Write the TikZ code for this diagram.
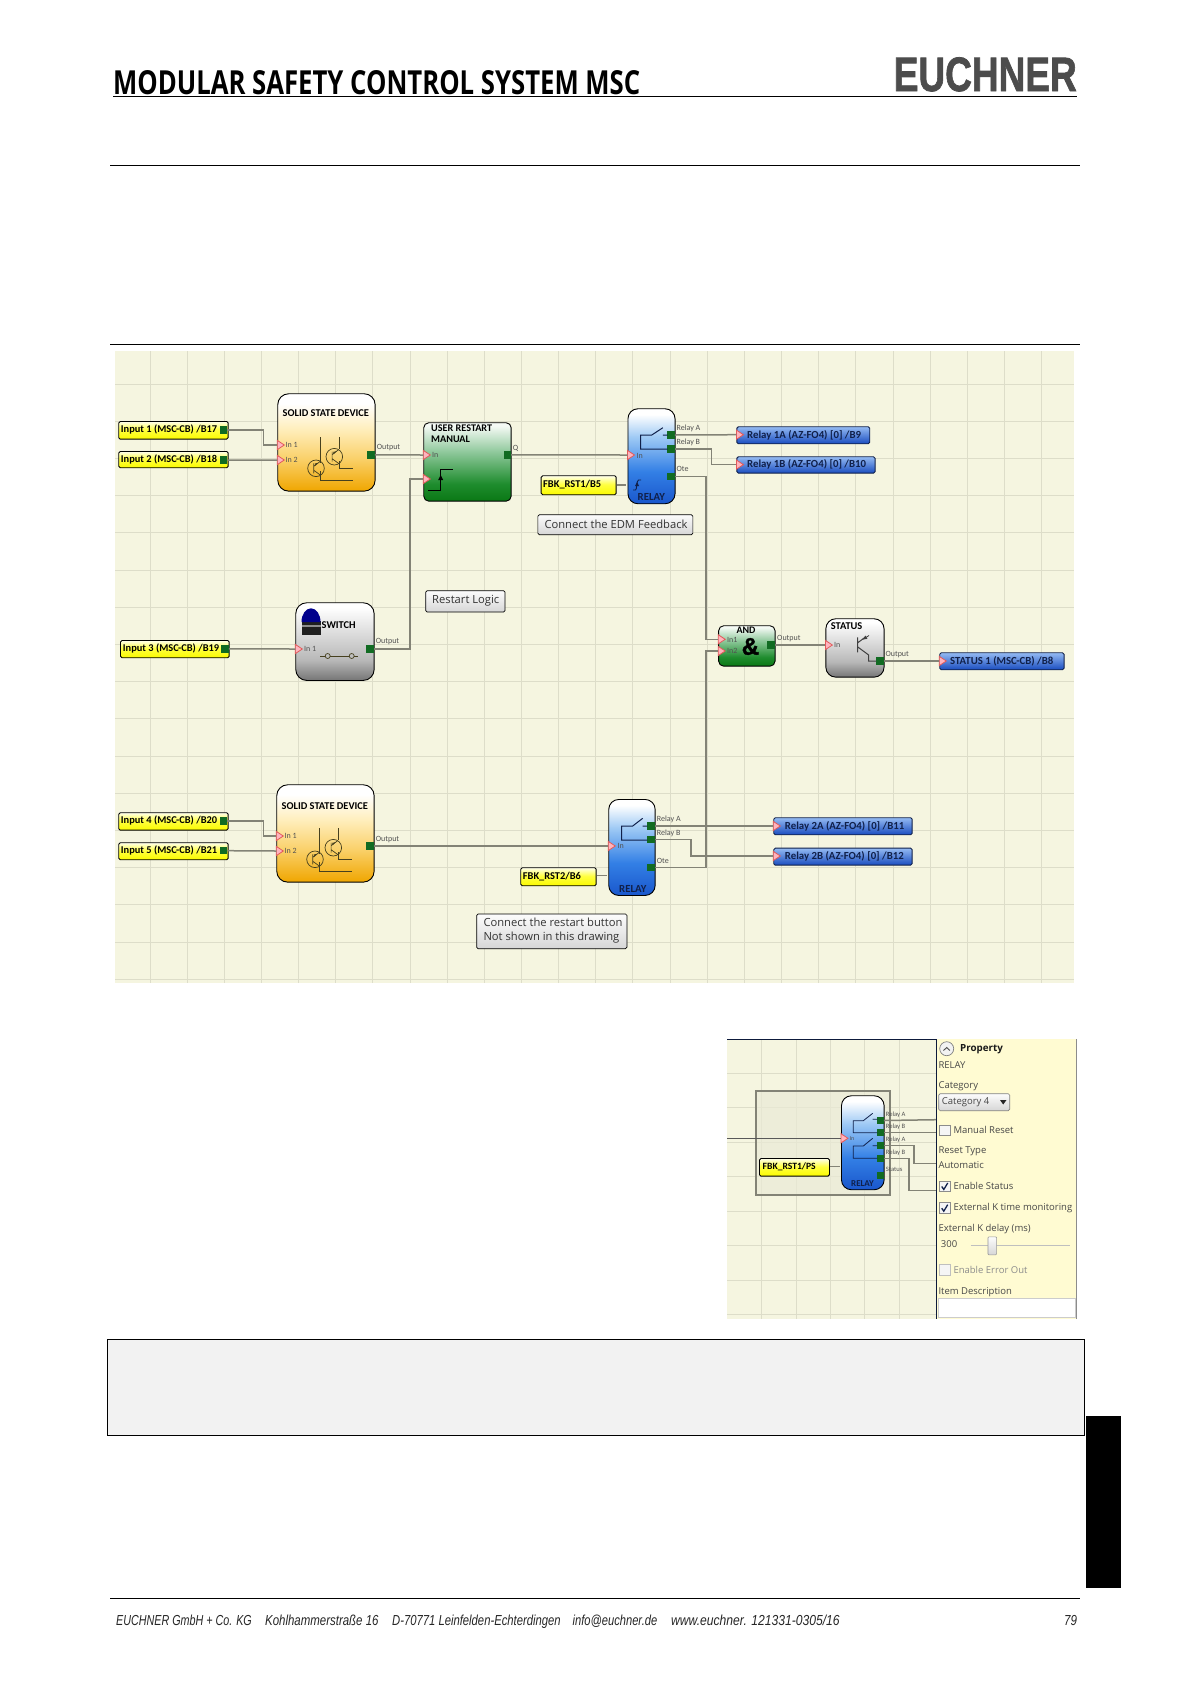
\documentclass[tikz,border=0pt]{standalone}
\usepackage{fontspec}
\usepackage{graphicx}
\setmainfont{Carlito}
\newfontfamily\uif{Open Sans}
\newfontfamily\headf{Open Sans}
\newfontfamily\logof[BoldFeatures={FakeBold=1.6}]{Liberation Sans}
\newfontfamily\footf{Liberation Sans}
\newcounter{lbl}
\definecolor{canvas}{HTML}{F5F5E0}
\definecolor{gridc}{HTML}{DDDDC9}
\definecolor{wirec}{HTML}{838376}
\definecolor{portc}{HTML}{116B22}
\definecolor{navy}{HTML}{10204A}
\definecolor{symb}{HTML}{46401E}
\definecolor{panelc}{HTML}{FFFBD2}
\definecolor{mkline}{HTML}{E25A5A}
\definecolor{mkfill}{HTML}{FFB4BE}
\pgfdeclareverticalshading{shOrange}{100bp}{rgb(0bp)=(0.94,0.65,0); rgb(25bp)=(0.94,0.65,0); rgb(42bp)=(0.98,0.82,0.42); rgb(58bp)=(1,0.94,0.76); rgb(70bp)=(1,1,1); rgb(100bp)=(1,1,1)}
\pgfdeclareverticalshading{shGray}{100bp}{rgb(0bp)=(0.46,0.46,0.46); rgb(25bp)=(0.46,0.46,0.46); rgb(38bp)=(0.72,0.72,0.72); rgb(72bp)=(1,1,1); rgb(100bp)=(1,1,1)}
\pgfdeclareverticalshading{shGreen}{100bp}{rgb(0bp)=(0.04,0.47,0.08); rgb(25bp)=(0.04,0.47,0.08); rgb(36bp)=(0.12,0.55,0.18); rgb(56bp)=(0.55,0.78,0.6); rgb(73bp)=(0.96,0.98,0.96); rgb(100bp)=(1,1,1)}
\pgfdeclareverticalshading{shBlue}{100bp}{rgb(0bp)=(0.1,0.34,0.8); rgb(25bp)=(0.1,0.34,0.8); rgb(42bp)=(0.2,0.5,0.9); rgb(60bp)=(0.62,0.79,0.96); rgb(72bp)=(1,1,1); rgb(100bp)=(1,1,1)}
\pgfdeclareverticalshading{shYellow}{100bp}{rgb(0bp)=(0.98,0.98,0); rgb(25bp)=(0.98,0.98,0); rgb(52bp)=(1,1,0.25); rgb(75bp)=(1,1,0.93); rgb(100bp)=(1,1,1)}
\pgfdeclareverticalshading{shOut}{100bp}{rgb(0bp)=(0.1,0.3,0.75); rgb(25bp)=(0.1,0.3,0.75); rgb(75bp)=(0.58,0.73,0.95); rgb(100bp)=(1,1,1)}
\pgfdeclareverticalshading{shNote}{100bp}{rgb(0bp)=(0.84,0.84,0.84); rgb(25bp)=(0.84,0.84,0.84); rgb(75bp)=(0.99,0.99,0.99); rgb(100bp)=(1,1,1)}
\tikzset{
  blk/.style={draw=black,line width=0.9pt,inner sep=0pt,anchor=north west},
  inlab/.style={blk,shading=shYellow,rounded corners=1.5pt,draw=black},
  outlab/.style={blk,shading=shOut,rounded corners=1.5pt,draw=navy},
  notebox/.style={blk,shading=shNote,rounded corners=1.5pt,line width=0.7pt},
  port/.style={draw=none,fill=portc,inner sep=0pt,minimum width=7.3pt,minimum height=7.5pt},
  wire/.style={draw=wirec,line width=1.5pt},
  mk/.style={draw=mkline,fill=mkfill,line width=0.8pt},
  sym/.style={draw=symb,line width=0.7pt},
  relsym/.style={draw=navy,line width=1pt},
  boldt/.style={inner sep=0pt,anchor=west,font=\fontsize{10.4}{11}\selectfont\bfseries,text=black},
  outt/.style={inner sep=0pt,anchor=west,font=\fontsize{10.8}{11}\selectfont\bfseries,text=navy},
  notet/.style={inner sep=0pt,anchor=west,font=\uif\fontsize{11.2}{13.4}\selectfont,text=black!80,align=left},
  small/.style={inner sep=0pt,anchor=west,font=\fontsize{8}{9}\selectfont,text=black!68},
  panelt/.style={inner sep=0pt,anchor=west,font=\uif\fontsize{9.5}{10}\selectfont,text=black!72},
  check/.style={draw=black!45,fill=black!4,line width=0.6pt},
  foot/.style={inner sep=0pt,anchor=base west,font=\footf\itshape\fontsize{14.5}{16}\selectfont,text=black!85}
}
\newcommand{\lb}[4][small]{\stepcounter{lbl}\node[#1] (lab\arabic{lbl}) at (#2,#3) {#4};}
\newcommand{\mkr}[3]{\coordinate (#1) at (#2,#3);\draw[mk] (#1) ++(0,-4.6) -- ++(7,4.6) -- ++(-7,4.6) -- cycle;}
\newcommand{\ssdsym}[2]{\begin{scope}[shift={(#1,#2)}]
  \draw[sym] (43.4,44) -- (43.4,70) (43.4,78) -- (43.4,86.7) -- (75.4,86.7);
  \draw[sym] (62,44) -- (62,56) (62,68) -- (62,75) -- (75.4,75);
  \draw[sym] (38.7,75) circle (8.3) (57,63.4) circle (8.3);
  \draw[sym] (36.5,70) -- (36.5,80) (36.5,77) -- (43.4,82) (36.5,73) -- (43,68);
  \draw[sym] (54.8,58.4) -- (54.8,68.4) (54.8,65.4) -- (61.7,70.4) (54.8,61.4) -- (61.3,56.4);
  \fill[symb] (41,69.5) -- (38,72.5) -- (37.6,70.2) -- cycle (59.3,57.9) -- (56.3,60.9) -- (55.9,58.6) -- cycle;
\end{scope}}
\begin{document}
\begin{tikzpicture}[x=1pt,y=-1pt]
\useasboundingbox (0,0) rectangle (1191,1684);
\fill[white] (0,0) rectangle (1191,1684);

% ---- header ----
\node[inner sep=0pt,anchor=south west] (title) at (113,95) {\resizebox{527pt}{24pt}{\headf\bfseries MODULAR SAFETY CONTROL SYSTEM MSC}};
\node[inner sep=0pt,anchor=south east] (logo) at (1077,91.7) {\resizebox{183pt}{33.7pt}{\logof\bfseries\color{black!70}EUCHNER}};
\draw[black,line width=1pt] (113,96.7) -- (1077,96.7);
\draw[black,line width=1pt] (110,165.7) -- (1080,165.7);
\draw[black,line width=1pt] (110,344.5) -- (1080,344.5);

% ---- main canvas ----
\fill[canvas] (115,351) rectangle (1074,982.7);
\foreach \k in {0,...,24} \draw[gridc,line width=1pt] ({150+37.15*\k},351) -- ({150+37.15*\k},982.7);
\foreach \k in {0,...,16} \draw[gridc,line width=1pt] (115,{384+37.2*\k}) -- (1074,{384+37.2*\k});

% input labels
\node[inlab,minimum width=109.4pt,minimum height=17.7pt] (i1) at (118.3,421) {};
\node[inlab,minimum width=109.4pt,minimum height=16.3pt] (i2) at (118.3,451) {};
\node[inlab,minimum width=108.7pt,minimum height=17.3pt] (i3) at (120,640) {};
\node[inlab,minimum width=109.4pt,minimum height=17.4pt] (i4) at (118.3,812.3) {};
\node[inlab,minimum width=109.4pt,minimum height=17pt] (i5) at (118.3,842.3) {};
\lb[boldt]{120.7}{429.3}{Input 1 (MSC-CB) /B17}
\lb[boldt]{120.7}{459.3}{Input 2 (MSC-CB) /B18}
\lb[boldt]{122.7}{648.3}{Input 3 (MSC-CB) /B19}
\lb[boldt]{120.7}{820.3}{Input 4 (MSC-CB) /B20}
\lb[boldt]{120.7}{850.3}{Input 5 (MSC-CB) /B21}
\node[port] (p1) at (223.6,429.8) {};
\node[port] (p2) at (223.6,460.2) {};
\node[port] (p3) at (225,648.9) {};
\node[port] (p4) at (223.6,820.8) {};
\node[port] (p5) at (223.6,850.7) {};

% solid state device 1
\node[blk,shading=shOrange,rounded corners=11pt,minimum width=97.4pt,minimum height=97.4pt] (ssd1) at (277.3,393.3) {};
\lb[boldt]{282.5}{413.3}{SOLID STATE DEVICE}
\ssdsym{277.3}{393.3}
\mkr{m1}{277.3}{445}
\mkr{m2}{277.3}{460}
\lb{285.5}{445}{In 1}
\lb{285.5}{460}{In 2}
\node[port] (ssd1o) at (371,454.9) {};
\lb{376.7}{448}{Output}

% user restart
\node[blk,shading=shGreen,rounded corners=5pt,minimum width=87.4pt,minimum height=78.4pt] (ur) at (423.3,422.3) {};
\stepcounter{lbl}\node[inner sep=0pt,anchor=north west,align=left,font=\fontsize{10.2}{11}\selectfont\bfseries] (lab\arabic{lbl}) at (431,424.3) {USER RESTART\\MANUAL};
\mkr{m3}{423.3}{455}
\mkr{m4}{423.3}{479}
\lb{432}{455.3}{In}
\node[port] (urq) at (507.3,454.9) {};
\lb{512.7}{448}{Q}
\draw[draw=black,line width=0.9pt] (428.3,490.7) -- (440.7,490.7) -- (440.7,469.3) -- (452.7,469.3);
\fill[black] (440.7,475) -- (443.2,480) -- (438.2,480) -- cycle;

% switch
\node[blk,shading=shGray,rounded corners=11pt,minimum width=78.4pt,minimum height=77.7pt] (sw) at (295.3,602.3) {};
\fill[black!88] (302,621) rectangle (320.5,635);
\fill[black!45] (302,624.5) rectangle (320.5,627);
\fill[blue!55!black] (301.5,622) arc[start angle=180,end angle=0,x radius=9.5,y radius=-13.7] -- cycle;
\lb[boldt]{321.5}{624.8}{SWITCH}
\mkr{m5}{295.3}{649}
\lb{304}{649}{In 1}
\draw[sym] (320,656) -- (325.2,656) (330.2,656) -- (349.2,656) (354.2,656) -- (358,656);
\draw[sym] (327.7,656) circle (2.5) (351.7,656) circle (2.5);
\node[port] (swo) at (370,648.9) {};
\lb{375.7}{642}{Output}

% restart logic note
\node[notebox,minimum width=79.4pt,minimum height=21.4pt] (nr) at (425.3,590.3) {};
\lb[notet]{432}{601}{Restart Logic}

% relay 1
\node[blk,shading=shBlue,rounded corners=10pt,minimum width=47.1pt,minimum height=95pt] (r1) at (627.5,408.3) {};
\mkr{m6}{627.5}{455}
\lb{636.4}{456}{In}
\node[port] (r1a) at (671,435) {};
\node[port] (r1b) at (671,449) {};
\node[port] (r1c) at (671,476.3) {};
\lb{676.4}{428.3}{Relay A}
\lb{676.4}{442.3}{Relay B}
\lb{676.4}{469.3}{Ote}
\draw[relsym] (662.9,427.7) -- (651.8,435) -- (640.7,435) -- (640.7,449) -- (667.5,449) (662.9,435) -- (667.5,435);
\draw[relsym,line width=0.9pt] (633,490) -- (635.5,490) .. controls (637,490) and (636.5,480) .. (638.5,480) -- (641,480);
\fill[navy] (637,482) -- (639,486) -- (635,486) -- cycle;
\lb[outt]{637.5}{497.3}{RELAY}

% FBK1
\node[inlab,minimum width=75pt,minimum height=19pt] (fb1) at (540.7,475.3) {};
\lb[boldt]{543}{485}{FBK\_RST1/B5}
\coordinate (r1fb) at (626.4,485);
\draw[wire] (fb1.east |- r1fb) -- (r1fb);

% EDM note
\node[notebox,minimum width=155pt,minimum height=20pt] (ne) at (537.5,514.3) {};
\lb[notet]{544.3}{524.5}{Connect the EDM Feedback}

% relay outputs
\node[outlab,minimum width=132.9pt,minimum height=17pt] (o1a) at (736.4,426.3) {};
\node[outlab,minimum width=138.2pt,minimum height=16.4pt] (o1b) at (736.4,456.3) {};
\mkr{m7}{736.4}{434.7}
\mkr{m8}{736.4}{464.6}
\lb[outt]{747}{435}{Relay 1A (AZ-FO4) [0] /B9}
\lb[outt]{747}{464.7}{Relay 1B (AZ-FO4) [0] /B10}

% AND
\node[blk,shading=shGreen,rounded corners=5pt,minimum width=56.4pt,minimum height=40.4pt] (and) at (718.2,625.3) {};
\node[inner sep=0pt,font=\fontsize{10}{11}\selectfont\bfseries] (andt) at (746,630.5) {AND};
\mkr{m9}{718.2}{639.3}
\mkr{m10}{718.2}{651}
\lb{727}{639.5}{In1}
\lb{727}{651.2}{In2}
\node[inner sep=0pt,font=\logof\bfseries\fontsize{24}{24}\selectfont] (amp) at (750.4,646.5) {\&};
\node[port] (ando) at (771,645) {};
\lb{777}{638.7}{Output}

% status
\node[blk,shading=shGray,rounded corners=10pt,minimum width=58.2pt,minimum height=58.4pt] (st) at (825.4,618.3) {};
\lb[boldt]{830.7}{625.9}{STATUS}
\mkr{m11}{825.4}{645}
\lb{834}{645}{In}
\node[port] (sto) at (880,661) {};
\draw[draw=black!75,line width=1pt] (857.5,637.3) -- (857.5,652.3) (857.5,646.7) -- (868.6,655) -- (868.6,661) -- (876.4,661) (857.5,643) -- (864,638);
\draw[draw=black!75,line width=0.8pt,-latex] (869,635.5) -- (862,640);
\lb{885.4}{654.3}{Output}
\node[outlab,minimum width=124.3pt,minimum height=17pt] (os) at (939.3,652.3) {};
\mkr{m12}{939.3}{661}
\lb[outt]{950}{661}{STATUS 1 (MSC-CB) /B8}

% solid state device 2
\node[blk,shading=shOrange,rounded corners=11pt,minimum width=97.4pt,minimum height=97.4pt] (ssd2) at (276.3,784.3) {};
\lb[boldt]{281.5}{805.7}{SOLID STATE DEVICE}
\ssdsym{276.3}{784.3}
\mkr{m13}{276.3}{836}
\mkr{m14}{276.3}{851}
\lb{284.5}{836}{In 1}
\lb{284.5}{851}{In 2}
\node[port] (ssd2o) at (370,846) {};
\lb{375.7}{839.3}{Output}

% relay 2
\node[blk,shading=shBlue,rounded corners=10pt,minimum width=46.4pt,minimum height=96pt] (r2) at (608.3,799) {};
\mkr{m15}{608.3}{846}
\lb{617.5}{846.3}{In}
\node[port] (r2a) at (651,826) {};
\node[port] (r2b) at (651,839.7) {};
\node[port] (r2c) at (651,867.5) {};
\lb{656.7}{819.3}{Relay A}
\lb{656.7}{833.3}{Relay B}
\lb{656.7}{861}{Ote}
\draw[relsym] (642.7,818.3) -- (632.7,826) -- (621.7,826) -- (621.7,840) -- (647.3,840) (642.7,826) -- (647.3,826);
\lb[outt]{619}{888.7}{RELAY}

% FBK2
\node[inlab,minimum width=75.4pt,minimum height=18pt] (fb2) at (520.3,867.3) {};
\lb[boldt]{522.7}{876.3}{FBK\_RST2/B6}
\coordinate (r2fb) at (607,875.7);
\draw[wire] (fb2.east |- r2fb) -- (r2fb);

% restart note
\node[notebox,minimum width=150.4pt,minimum height=34.6pt] (nc) at (476.3,913.7) {};
\stepcounter{lbl}\node[notet] (lab\arabic{lbl}) at (483.3,930.5) {Connect the restart button\\Not shown in this drawing};

% outputs 2
\node[outlab,minimum width=138.4pt,minimum height=17pt] (o2a) at (773.3,817.3) {};
\node[outlab,minimum width=138.4pt,minimum height=17pt] (o2b) at (773.3,847.7) {};
\mkr{m16}{773.3}{826}
\mkr{m17}{773.3}{856}
\lb[outt]{784.7}{826}{Relay 2A (AZ-FO4) [0] /B11}
\lb[outt]{784.7}{856}{Relay 2B (AZ-FO4) [0] /B12}

% wires of the main diagram
\draw[wire] (p1.east) -- ++(35.8,0) |- (m1);
\draw[wire] (p2.east) -- (m2);
\draw[wire] (ssd1o.east) -- (m3);
\draw[wire] (p3.east) -- (m5);
\draw[wire] (swo.east) -- ++(36.3,0) |- (m4);
\draw[wire] (urq.east) -- (m6);
\draw[wire] (r1a.east) -- (m7);
\draw[wire] (r1b.east) -- ++(36.4,0) |- (m8);
\draw[wire] (r1c.east) -- ++(31.1,0) |- (m9);
\draw[wire] (ando.east) -- (m11);
\draw[wire] (sto.east) -- (m12);
\draw[wire] (p4.east) -- ++(35.8,0) |- (m13);
\draw[wire] (p5.east) -- (m14);
\draw[wire] (ssd2o.east) -- (m15);
\draw[wire] (r2a.east) -- (m16);
\draw[wire] (r2b.east) -- ++(36,0) |- (m17);
\draw[wire] (r2c.east) -- ++(51.3,0) |- (m10);

% ---- inset ----
\fill[canvas] (727,1039) rectangle (936.5,1319.3);
\foreach \k in {0,...,4} \draw[gridc,line width=0.9pt] ({761.7+34.4*\k},1039) -- ({761.7+34.4*\k},1319.3);
\foreach \k in {0,...,7} \draw[gridc,line width=0.9pt] (727,{1073.3+34.45*\k}) -- (936.5,{1073.3+34.45*\k});
\node[draw=wirec,line width=1.8pt,fill=black!4!canvas,fill opacity=0.7,inner sep=0pt,anchor=north west,minimum width=134pt,minimum height=103.7pt] (sel) at (755,1090.3) {};
\node[blk,shading=shBlue,rounded corners=10pt,minimum width=42.7pt,minimum height=94pt] (r3) at (841,1095.3) {};
\coordinate (ileft) at (727,1138.3);
\mkr{m18}{841}{1138.3}
\draw[draw=black!65,line width=0.7pt] (ileft) -- (m18);
\stepcounter{lbl}\node[small,font=\fontsize{6}{7}\selectfont] (lab\arabic{lbl}) at (849.5,1138.6) {In};
\node[port,minimum width=6.4pt,minimum height=6.5pt] (r3a) at (880.5,1120.5) {};
\node[port,minimum width=6.4pt,minimum height=6.5pt] (r3b) at (880.5,1132.7) {};
\node[port,minimum width=6.4pt,minimum height=6.5pt] (r3c) at (880.5,1145.5) {};
\node[port,minimum width=6.4pt,minimum height=6.5pt] (r3d) at (880.5,1158.3) {};
\node[port,minimum width=6.4pt,minimum height=7pt] (r3e) at (880.5,1175.2) {};
\foreach \yy/\tt in {1114.7/Relay A,1126.7/Relay B,1139.7/Relay A,1152.7/Relay B,1169/Status} {
  \stepcounter{lbl}\node[small,font=\fontsize{6.6}{7}\selectfont] (lab\arabic{lbl}) at (885.7,\yy) {\tt};
}
\draw[relsym,line width=0.8pt] (872.7,1113.3) -- (863.3,1120.7) -- (853.3,1120.7) -- (853.3,1132.7) -- (877.3,1132.7) (872.7,1119.3) -- (877.3,1119.3);
\draw[relsym,line width=0.8pt] (872.7,1138.3) -- (863.3,1146) -- (853.3,1146) -- (853.3,1158.3) -- (877.3,1158.3) (872.7,1145.7) -- (877.3,1145.7);
\stepcounter{lbl}\node[outt,font=\fontsize{9}{10}\selectfont\bfseries] (lab\arabic{lbl}) at (851,1183.3) {RELAY};
\node[inlab,minimum width=70pt,minimum height=17.7pt] (fb3) at (759,1158) {};
\stepcounter{lbl}\node[boldt,font=\fontsize{9.6}{10}\selectfont\bfseries] (lab\arabic{lbl}) at (762.5,1167) {FBK\_RST1/PS};
\coordinate (r3fb) at (840,1166.7);
\draw[wire] (fb3.east |- r3fb) -- (r3fb);

% property panel
\fill[panelc] (937,1039) rectangle (1076,1319.3);
\coordinate (e1) at (936.5,1119.7);
\coordinate (e2) at (936.5,1132.7);
\coordinate (e3) at (936.5,1163.7);
\coordinate (e4) at (936.5,1190.7);
\draw[wire] (r3a.east) -- (e1);
\draw[wire] (r3b.east) -- (e2);
\draw[wire] (r3c.east) -| (914,1163.7) -- (e3);
\draw[wire] (r3d.east) -| (909,1190.7) -- (e4);
\draw[draw=navy!80!black,line width=1pt] (727,1039) -- (936.5,1039) -- (936.5,1319.3);
\draw[draw=black!45,line width=0.7pt] (1076,1039) -- (1076,1319.3);
\node[circle,draw=black!50,fill=black!5,line width=0.7pt,minimum size=14pt,inner sep=0pt] (btn) at (946.7,1048.7) {};
\draw[draw=black!70,line width=0.9pt] (943.5,1050.5) -- (946.7,1047.5) -- (949.9,1050.5);
\stepcounter{lbl}\node[panelt,font=\uif\bfseries\fontsize{9.8}{10}\selectfont,text=black!90] (lab\arabic{lbl}) at (960,1048.7) {Property};
\lb[panelt]{938.3}{1064.7}{RELAY}
\lb[panelt]{938.3}{1086}{Category}
\node[draw=black!50,shading=shNote,rounded corners=1.5pt,line width=0.7pt,inner sep=0pt,anchor=north west,minimum width=71pt,minimum height=17pt] (combo) at (938.3,1093.3) {};
\lb[panelt]{941.7}{1102}{Category 4}
\fill[black!85] (1000,1100) -- (1006.5,1100) -- (1003.2,1104.5) -- cycle;
\node[check,inner sep=0pt,minimum size=10.5pt] (c1) at (944.7,1130.3) {};
\lb[panelt]{953.3}{1130.3}{Manual Reset}
\lb[panelt]{938.3}{1151.3}{Reset Type}
\lb[panelt]{938.3}{1165}{Automatic}
\node[check,inner sep=0pt,minimum size=10.5pt] (c2) at (944.7,1186.3) {};
\draw[draw=navy,line width=1.3pt] (941.7,1186.5) -- (943.8,1189.5) -- (947.7,1183);
\lb[panelt]{953.3}{1186}{Enable Status}
\node[check,inner sep=0pt,minimum size=10.5pt] (c3) at (944.7,1208) {};
\draw[draw=navy,line width=1.3pt] (941.7,1208.2) -- (943.8,1211.2) -- (947.7,1204.7);
\lb[panelt]{953.3}{1208}{External K time monitoring}
\lb[panelt]{938.3}{1229}{External K delay (ms)}
\lb[panelt]{940.7}{1244}{300}
\draw[draw=black!25,line width=0.9pt] (970.7,1245) -- (1070,1245);
\node[draw=black!40,shading=shNote,rounded corners=1pt,line width=0.6pt,inner sep=0pt,minimum width=8.7pt,minimum height=18pt] (thumb) at (992.3,1245.8) {};
\node[check,draw=black!25,inner sep=0pt,minimum size=10.5pt] (c4) at (944.7,1269.7) {};
\stepcounter{lbl}\node[panelt,text=black!45] (lab\arabic{lbl}) at (953.3,1269.7) {Enable Error Out};
\lb[panelt]{938.3}{1291.7}{Item Description}
\node[draw=black!20,fill=white,line width=0.5pt,inner sep=0pt,anchor=north west,minimum width=137pt,minimum height=18.4pt] (itemd) at (938,1298.3) {};

% ---- note box, tab, footer ----
\fill[black!5,draw=black,line width=1.2pt] (107.4,1339.3) rectangle (1084.7,1435.3);
\fill[black] (1085.8,1416) rectangle (1121,1587.7);
\draw[black,line width=1pt] (110,1598.3) -- (1080,1598.3);
\lb[foot]{116}{1625}{\scalebox{0.741}[1]{EUCHNER GmbH + Co. KG}}
\lb[foot]{265}{1625}{\scalebox{0.79}[1]{Kohlhammerstraße 16}}
\lb[foot]{392}{1625}{\scalebox{0.777}[1]{D-70771 Leinfelden-Echterdingen}}
\lb[foot]{572.4}{1625}{\scalebox{0.769}[1]{info@euchner.de}}
\lb[foot]{671}{1625}{\scalebox{0.836}[1]{www.euchner. 121331-0305/16}}
\lb[foot]{1064}{1625}{\scalebox{0.8}[1]{79}}
\end{tikzpicture}
\end{document}
